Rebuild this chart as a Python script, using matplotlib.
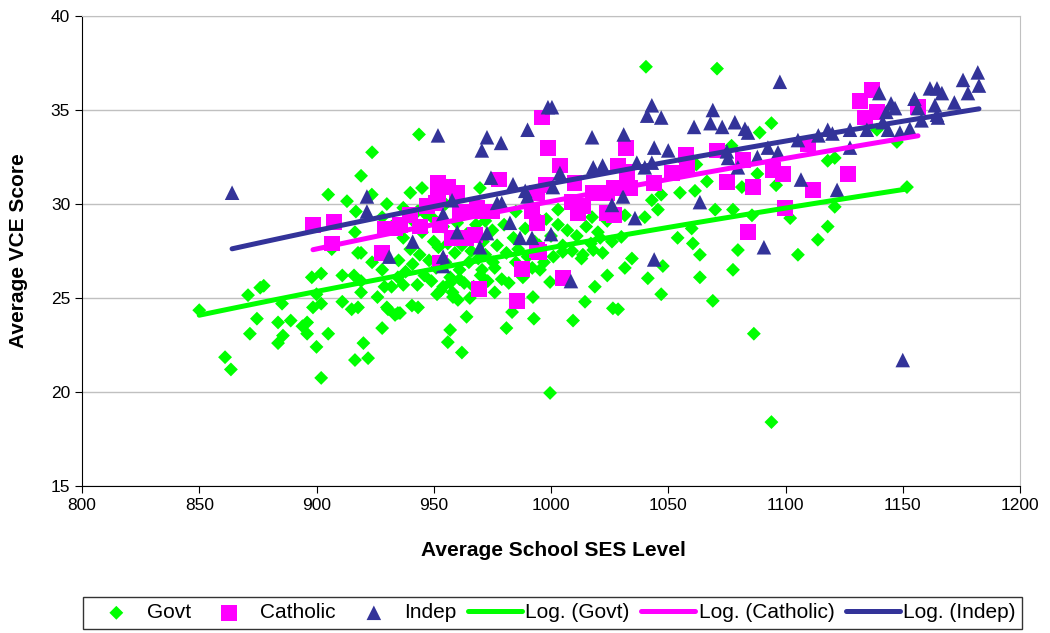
import numpy as np
import matplotlib
matplotlib.use("Agg")
import matplotlib.pyplot as plt

plt.rcParams['font.family'] = ['Liberation Sans', 'DejaVu Sans']

# school averages: SES level vs VCE score
govt = [
    (850, 24.35), (861, 21.85), (863.5, 21.2), (870.8, 25.15), (871.6, 23.1), (874.6, 23.9),
    (876, 25.55), (877.5, 25.65), (883.6, 23.7), (883.6, 22.6), (885.3, 24.7), (885.7, 23.0),
    (889, 23.8), (894, 23.5), (896, 23.7), (896, 23.1), (898, 26.1), (898.5, 24.5), (900, 25.2),
    (900, 22.4), (902, 24.7), (902, 20.75), (902, 26.3), (905, 23.1), (905, 30.5), (906.5, 27.6),
    (911, 24.8), (911, 26.2), (913, 30.15), (915, 24.4), (916, 26.2), (916.4, 21.7), (916.4, 28.5),
    (916.8, 29.6), (917.7, 24.5), (919, 25.9), (919, 25.3), (919, 31.5), (919, 27.4), (920, 22.6),
    (922, 21.8), (923.6, 30.5), (923.7, 32.75), (926, 25.05), (928, 23.4), (930, 24.5), (932, 25.6),
    (933.5, 24.1), (929, 25.6), (934.7, 24.2), (930.5, 24.4), (917.7, 27.4), (923.7, 26.9),
    (928, 26.5), (934.7, 26.1),
    (935, 27.0), (937, 28.2), (938, 26.4), (940, 27.6), (941, 26.8), (942, 29.0), (943, 25.7),
    (944, 27.3), (945, 28.5), (946, 26.2), (947, 29.4), (948, 27.0), (949, 25.9), (950, 28.0),
    (951, 26.6), (952, 27.7), (953, 25.4), (954, 28.8), (955, 26.9), (956, 27.9), (957, 26.1),
    (958, 25.3), (959, 27.4), (960, 29.0), (961, 26.5), (962, 27.8), (963, 25.8), (964, 28.4),
    (965, 26.9), (966, 27.5), (967, 25.6), (968, 28.9), (969, 27.1), (970, 26.2), (971, 28.0),
    (972, 27.3), (973, 25.9), (975, 28.6), (976, 26.6), (977, 27.8), (979, 26.0), (980, 28.9),
    (981, 27.4), (982, 25.8), (984, 28.2), (985, 26.9), (986, 27.6), (988, 26.1), (989, 28.7),
    (990, 27.2), (992, 26.6), (993, 28.0), (995, 27.8), (997, 26.9), (998, 29.2), (1000, 28.3),
    (1001, 27.2), (1003, 28.9), (1005, 27.8), (1007, 28.6), (1009, 27.5), (1011, 28.3),
    (1013, 27.1), (1015, 28.8), (1017, 27.9), (1020, 28.5), (1022, 27.4), (1024, 29.1),
    (1026, 28.0), (1028, 29.4),
    (946, 29.9), (950, 29.2), (955, 30.0), (963, 29.5), (972, 29.1), (985, 29.6), (993, 29.4),
    (1003, 29.7),
    (937, 29.8), (943, 29.6), (945, 30.85), (943.7, 33.7), (940, 30.6), (928, 29.3), (932, 28.8),
    (930, 30.0), (969.7, 30.85), (1017.5, 29.3), (1021, 28.2),
    (999.6, 19.95), (962, 22.1), (956, 22.65), (957, 23.3), (964, 24.0), (981, 23.4),
    (983.4, 24.25), (992.7, 23.9), (992.3, 25.05), (1009.4, 23.8), (1014.5, 24.8), (1018.7, 25.6),
    (1024, 26.2), (1026.4, 24.45), (999.6, 25.85), (995.3, 26.5), (970.6, 26.5), (975.3, 26.9),
    (976, 25.3), (940.7, 24.6), (943.3, 24.5), (935.6, 24.2), (951.4, 25.2), (958.2, 25.05),
    (960.3, 24.9), (965.4, 25.0), (957, 25.8), (954, 25.6), (961, 26.0), (937, 25.7),
    (1013.6, 27.3), (1018, 27.55), (1005, 27.45),
    (1094, 18.4), (1086.5, 23.1), (1069, 24.85), (1047, 25.2), (1041.3, 26.05), (1028.6, 24.4),
    (1031.5, 26.6), (1034.5, 27.1), (1047.7, 26.7), (1063.5, 26.1), (1063.5, 27.3), (1077.6, 26.5),
    (1079.7, 27.55), (1105.3, 27.3), (1040.5, 37.3), (1070.8, 37.2), (1094, 34.3), (1089, 33.8),
    (1062, 32.1), (1066.5, 31.2), (1081.4, 30.9), (1096, 31.0), (1088, 31.6), (1077, 33.1),
    (1055, 30.6), (1061.4, 30.7), (1043, 30.2), (1047, 30.5), (1045.6, 29.7), (1031.5, 29.4),
    (1040, 29.3), (1070, 29.7), (1077.6, 29.7), (1085.7, 29.4), (1102, 29.25), (1030, 28.25),
    (1054, 28.2), (1060, 28.7), (1060.5, 27.9), (1113.8, 28.1), (1118, 28.8), (1118, 32.3),
    (1121, 32.45), (1121, 29.85), (1139, 33.95), (1147.5, 33.3), (1151.8, 30.9),
]

catholic = [
    (898.5, 28.9), (907.5, 29.05), (906.6, 27.9), (929, 28.7), (933.5, 28.7), (928, 27.4),
    (935.6, 28.9), (996, 34.6), (998.7, 33.0), (1004, 32.05), (1010, 31.1), (951.8, 31.1),
    (956, 30.9), (960, 30.6), (951.8, 30.5), (951, 30.05), (978, 31.3), (994, 30.6), (998, 31.0),
    (1018, 30.6), (1024, 30.6), (1009, 30.1), (1013.6, 29.9), (1011.5, 29.5), (1024, 29.5),
    (961, 29.6), (964, 29.6), (952.6, 28.9), (944, 28.8), (968.4, 29.8), (971, 29.6), (975, 29.6),
    (992, 29.6), (994, 29.0), (957.8, 28.2), (964, 28.2), (967.6, 28.35), (994, 27.55),
    (987.6, 26.55), (969.3, 25.5), (985.5, 24.85), (1005, 26.05), (995, 27.45), (952.6, 26.85),
    (1032, 33.0), (1028.6, 32.05), (1032.4, 31.7), (1057.5, 32.6), (1058, 31.95), (1070.8, 32.85),
    (1082, 32.35), (1051.6, 31.65), (1044, 31.1), (1033.7, 30.85), (1027, 30.85), (1075, 31.15),
    (1086, 30.9), (1094.6, 31.8), (1099, 31.6), (1109.6, 33.2), (1111.7, 30.75), (1099.8, 29.8),
    (1084, 28.5), (1027, 29.4), (1136.9, 36.05), (1131.7, 35.5), (1139, 34.9), (1134, 34.6),
    (1156.5, 35.15), (1126.6, 31.6), (940, 29.4), (947, 29.9),
]

indep = [
    (864, 30.6), (921.5, 30.4), (921.5, 29.6), (951.8, 33.65), (972.7, 33.55), (970.5, 32.85),
    (978.7, 33.25), (990, 33.95), (998.7, 35.15), (1000.4, 35.15), (1017.5, 33.55), (1018, 31.95),
    (1022, 32.05), (974.4, 31.4), (983.8, 31.05), (989, 30.7), (990, 30.4), (1003.8, 31.65),
    (1000.8, 30.9), (957.8, 30.2), (954, 29.45), (977, 30.05), (979, 30.05), (982.5, 29.0),
    (960, 28.5), (972.7, 28.45), (969.7, 27.7), (986.8, 28.2), (991.9, 28.2), (1000, 28.4),
    (941, 28.0), (1026, 29.95), (931, 27.2), (954, 27.2), (954, 26.7), (1008.5, 25.9),
    (1097.6, 36.5), (1043, 35.25), (1041, 34.7), (1047, 34.6), (1069, 35.0), (1061, 34.1),
    (1068, 34.3), (1073, 34.1), (1078.4, 34.35), (1082.7, 34.0), (1084, 33.8), (1031, 33.7),
    (1044, 33.0), (1050, 32.85), (1036.6, 32.2), (1040, 31.95), (1043, 32.2), (1075, 32.8),
    (1075.5, 32.45), (1088, 32.5), (1092.5, 33.0), (1096.8, 32.75), (1079.7, 31.95),
    (1105.3, 33.4), (1114, 33.65), (1118, 33.95), (1106.6, 31.3), (1063.5, 30.1), (1030.7, 30.4),
    (1035.8, 29.25), (1090.8, 27.7), (1044, 27.05), (1140, 35.9), (1145, 35.35), (1146.7, 35.1),
    (1143, 34.9), (1155, 35.6), (1156.5, 35.1), (1161.6, 36.15), (1164.6, 36.15), (1166.7, 35.9),
    (1163.7, 35.25), (1164.6, 34.75), (1172, 35.4), (1175.7, 36.6), (1177.8, 35.9), (1182, 37.0),
    (1182.5, 36.3), (1158, 34.45), (1165, 34.6), (1143.7, 33.95), (1148.8, 33.8), (1153, 34.0),
    (1141.5, 34.35), (1134.7, 33.95), (1127.5, 33.95), (1127.5, 33.0), (1120, 33.75),
    (1122, 30.75), (1150, 21.7),
]

series = [
    ("Govt", govt, "D", 50, "#00FF00"),
    ("Catholic", catholic, "s", 130, "#FF00FF"),
    ("Indep", indep, "^", 110, "#333399"),
]

fig = plt.figure(figsize=(10.5, 6.33), dpi=100)
ax = fig.add_axes([82 / 1050, 1 - 486 / 633, 938 / 1050, 470 / 633])

handles = []
for name, pts, mk, sz, col in series:
    arr = np.array(pts)
    h = ax.scatter(arr[:, 0], arr[:, 1], marker=mk, s=sz, color=col,
                   edgecolors='none', zorder=3, label=name)
    handles.append(h)

# logarithmic trend lines (y = a*ln(x) + b) over each series' range
for name, pts, mk, sz, col in series:
    arr = np.array(pts)
    a, b = np.polyfit(np.log(arr[:, 0]), arr[:, 1], 1)
    xs = np.linspace(arr[:, 0].min(), arr[:, 0].max(), 100)
    ln, = ax.plot(xs, a * np.log(xs) + b, color=col, lw=3.6,
                  solid_capstyle='round', zorder=4, label=f"Log. ({name})")
    handles.append(ln)

ax.set_xlim(800, 1200)
ax.set_ylim(15, 40)
ax.set_xticks(np.arange(800, 1201, 50))
ax.set_yticks(np.arange(15, 41, 5))
ax.yaxis.grid(True, color='#c0c0c0', lw=1)
ax.set_axisbelow(True)
for s in ['top', 'right']:
    ax.spines[s].set_color('#c0c0c0')
for s in ['left', 'bottom']:
    ax.spines[s].set_color('black')
ax.tick_params(direction='out', length=5, labelsize=12.5, colors='black')
ax.set_xlabel("Average School SES Level", fontsize=15, fontweight='bold')
ax.set_ylabel("Average VCE Score", fontsize=15, fontweight='bold')
ax.xaxis.set_label_coords(0.503, -0.118)
ax.yaxis.set_label_coords(-0.0575, 0.5)

fig.legend(handles=handles, loc='upper left', mode='expand',
           bbox_to_anchor=(83 / 1050, 0, 939 / 1050, 1 - 597 / 633),
           ncol=6, fontsize=15, frameon=True, fancybox=False, edgecolor='black',
           handlelength=2.6, handletextpad=0.15, columnspacing=0.4, borderpad=0.3,
           borderaxespad=0)

fig.savefig("out.png", dpi=100)
